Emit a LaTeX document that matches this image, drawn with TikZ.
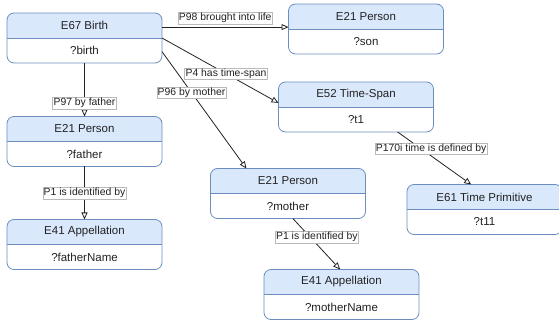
\documentclass[tikz,border=0pt]{standalone}
\usepackage{fontspec}
\setmainfont{Liberation Sans}
\usetikzlibrary{arrows.meta,calc}
\definecolor{hdrfill}{HTML}{DAE8FC}
\definecolor{hdrline}{HTML}{6C8EBF}
\definecolor{ink}{HTML}{222222}
\tikzset{
  entity/.style={rectangle, rounded corners=7pt, minimum width=155pt,
    minimum height=50pt, inner sep=0pt, outer sep=0pt, fill=white},
  frame/.style={draw=hdrline, line width=0.8pt},
  title/.style={font=\fontsize{11.5}{13}\selectfont, text=ink, inner sep=0pt},
  field/.style={font=\fontsize{11.5}{13}\selectfont, text=ink, inner sep=0pt},
  rel/.style={draw=ink, line width=0.8pt, -{Triangle[open, length=7pt, width=6pt]}},
  lbl/.style={font=\fontsize{10.4}{11.5}\selectfont, text=ink, fill=white,
    draw=gray!55, line width=0.4pt, inner xsep=1pt, inner ysep=1pt}
}
% Two-part class box: coloured title band above a white variable band
\newcommand\classbox[4]{%
  \node[entity] (#1) at (#2) {};
  \begin{scope}
    \clip[rounded corners=7pt] (#1.south west) rectangle (#1.north east);
    \fill[hdrfill] (#1.north west) rectangle (#1.east);
  \end{scope}
  \draw[frame, rounded corners=7pt] (#1.south west) rectangle (#1.north east);
  \draw[frame] (#1.west) -- (#1.east);
  \node[title] (#1-t) at ($(#1.north)!0.5!(#1.center)$) {#3};
  \node[field] (#1-v) at ($(#1.south)!0.5!(#1.center)$) {#4};
}
\begin{document}
\begin{tikzpicture}[x=1pt, y=-1pt]
  \useasboundingbox (0,0) rectangle (559,320);

  \classbox{birth}{84.5,38}{E67 Birth}{?birth}
  \classbox{son}{366,29}{E21 Person}{?son}
  \classbox{span}{356,107}{E52 Time-Span}{?t1}
  \classbox{father}{84.5,141.5}{E21 Person}{?father}
  \classbox{fname}{84.5,244.5}{E41 Appellation}{?fatherName}
  \classbox{mother}{288,193.5}{E21 Person}{?mother}
  \classbox{prim}{484.5,209.5}{E61 Time Primitive}{?t11}
  \classbox{mname}{341.5,294.5}{E41 Appellation}{?motherName}

  \draw[rel] (birth.8) -- (birth.8 -| son.west)
    node[lbl, pos=0.5, above=3pt] {P98 brought into life};
  \draw[rel] (birth.east) -- (span.177)
    node[lbl, pos=0.55] {P4 has time-span};
  \draw[rel] (birth.-10) -- (mother.149)
    node[lbl, pos=0.35] {P96 by mother};
  \draw[rel] (birth.south) -- (father.north)
    node[lbl, pos=0.75] {P97 by father};
  \draw[rel] (father.south) -- (fname.north)
    node[lbl, pos=0.5] {P1 is identified by};
  \draw[rel] (mother.-79) -- (mname.93)
    node[lbl, pos=0.36, xshift=7pt] {P1 is identified by};
  \draw[rel] (span.-31) -- (prim.118)
    node[lbl, pos=0.32, xshift=10pt] {P170i time is defined by};
\end{tikzpicture}
\end{document}
